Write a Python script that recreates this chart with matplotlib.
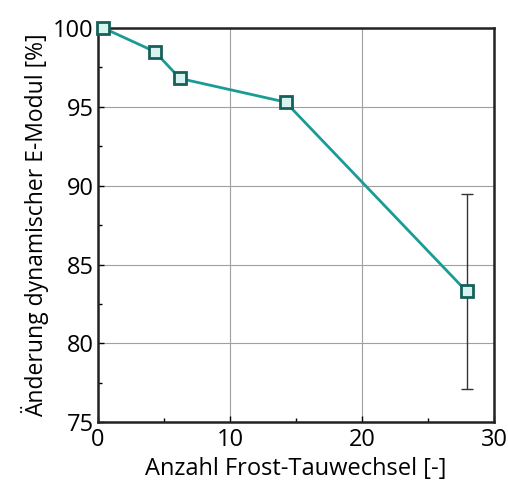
import matplotlib.pyplot as plt
from matplotlib.ticker import MultipleLocator

plt.rcParams['font.family'] = ['Open Sans', 'DejaVu Sans']

zyklen = [0.4, 4.3, 6.2, 14.2, 27.9]
e_modul = [100.0, 98.5, 96.8, 95.3, 83.3]
fehler_unten = [0.0, 0.1, 0.2, 0.3, 6.2]
fehler_oben = [0.0, 0.1, 0.2, 0.3, 6.2]

x_ticks = [0, 10, 20, 30]
y_ticks = [75, 80, 85, 90, 95, 100]

fig = plt.figure(figsize=(5.08, 4.91), dpi=100)
ax = fig.add_axes([0.193, 0.14, 0.78, 0.803])

ax.errorbar(zyklen, e_modul, yerr=[fehler_unten, fehler_oben],
            fmt='none', ecolor='#333333', elinewidth=1, capsize=4, capthick=1, zorder=2)
ax.plot(zyklen, e_modul, color='#1a9c96', linewidth=2, zorder=3, clip_on=False)
ax.plot(zyklen, e_modul, linestyle='none', marker='s', markersize=8,
        markerfacecolor='#d8f4f0', markeredgecolor='#17605a', markeredgewidth=2,
        zorder=4, clip_on=False)

ax.set_xlim(0, 30)
ax.set_ylim(75, 100)
ax.set_xticks(x_ticks)
ax.set_yticks(y_ticks)
ax.xaxis.set_minor_locator(MultipleLocator(5))
ax.yaxis.set_minor_locator(MultipleLocator(2.5))
ax.tick_params(which='both', direction='in', labelsize=17, length=4, width=1)
ax.tick_params(which='minor', length=3)
ax.tick_params(axis='x', pad=4)
ax.tick_params(axis='y', pad=3)
ax.grid(True, which='major', color='#a0a0a0', linewidth=0.8)

for s in ax.spines.values():
    s.set_linewidth(1.8)
    s.set_color('#222222')

ax.set_xlabel('Anzahl Frost-Tauwechsel [-]', fontsize=17, labelpad=4)
ax.set_ylabel('Änderung dynamischer E-Modul [%]', fontsize=16.5, labelpad=3)

fig.savefig('out.png', dpi=100)
